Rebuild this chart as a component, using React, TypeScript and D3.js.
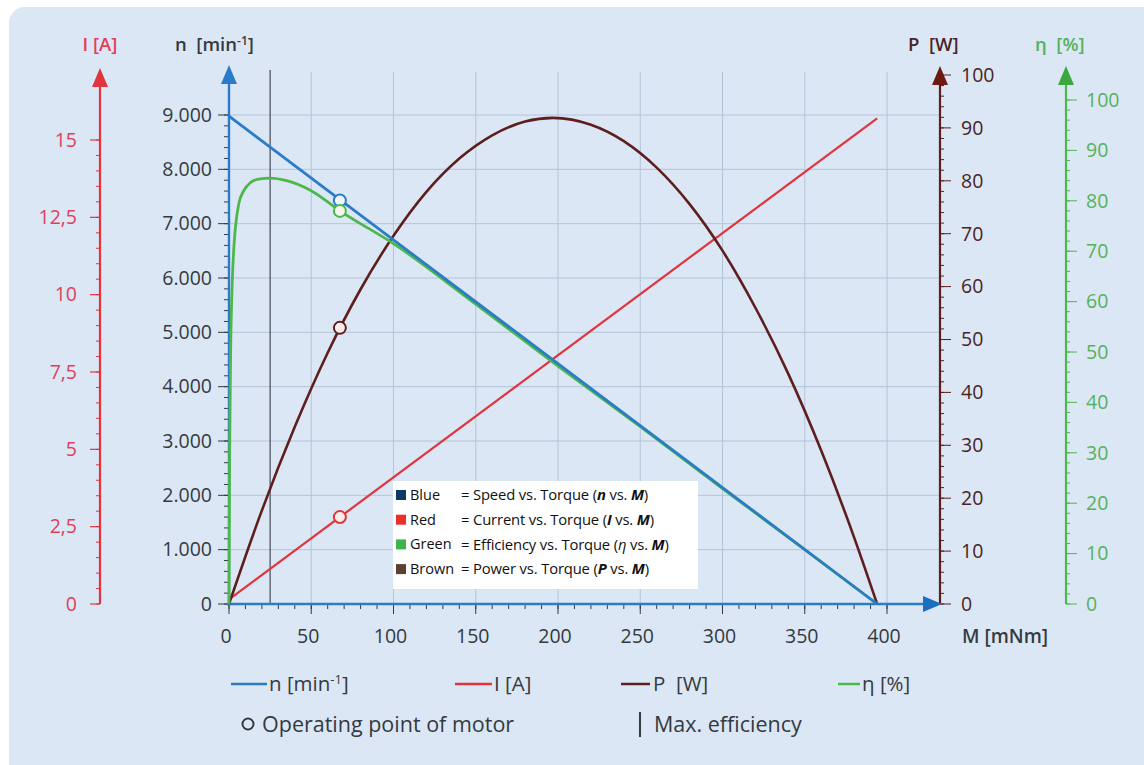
import React from "react";
import * as d3 from "d3";

// ---- data ----
const speedTorque = [0, 394];
const speedValues = [8980, 0];

const currentTorque = [0, 394];
const currentValues = [0.15, 15.7];

const powerTorque = [0, 20, 40, 60, 80, 100, 120, 140, 160, 180, 197, 220, 240, 260, 280, 300, 320, 340, 360, 380, 394];
const powerValues = [0, 17.7, 33.5, 47.5, 59.5, 69.6, 77.9, 84.2, 88.6, 91.2, 91.9, 90.6, 87.5, 82.5, 75.6, 66.8, 56.0, 43.5, 29.0, 12.6, 0];

const effTorque = [0, 0.4, 1, 2, 3, 4, 6, 9, 13, 18, 25, 35, 50, 67.4, 100, 150, 200, 250, 300, 350, 394];
const effValues = [0, 30, 50, 64, 71, 75, 79.5, 82, 83.6, 84.3, 84.5, 84, 82, 78, 71.5, 59.5, 47.2, 35.2, 22.9, 10.8, 0];

const opTorque = 67.4;
const opSpeed = 7426;
const opCurrent = 2.81;
const opPower = 52.2;
const opEff = 78;
const maxEffTorque = 25;

const xTicks = [0, 50, 100, 150, 200, 250, 300, 350, 400];
const nTicks = [0, 1000, 2000, 3000, 4000, 5000, 6000, 7000, 8000, 9000];
const nTickLabels = ["0", "1.000", "2.000", "3.000", "4.000", "5.000", "6.000", "7.000", "8.000", "9.000"];
const iTicks = [0, 2.5, 5, 7.5, 10, 12.5, 15];
const iTickLabels = ["0", "2,5", "5", "7,5", "10", "12,5", "15"];
const pTicks = [0, 10, 20, 30, 40, 50, 60, 70, 80, 90, 100];
const etaTicks = [0, 10, 20, 30, 40, 50, 60, 70, 80, 90, 100];

const legendRows = [
  { name: "Blue", color: "#0c3a68", pre: "= Speed vs. Torque (", sym: "n", mid: " vs. ", sym2: "M", post: ")" },
  { name: "Red", color: "#e8312a", pre: "= Current vs. Torque (", sym: "I", mid: " vs. ", sym2: "M", post: ")" },
  { name: "Green", color: "#3cb44a", pre: "= Efficiency vs. Torque (", sym: "η", mid: " vs. ", sym2: "M", post: ")" },
  { name: "Brown", color: "#5b4032", pre: "= Power vs. Torque (", sym: "P", mid: " vs. ", sym2: "M", post: ")" },
];

// ---- colours ----
const BLUE = "#2a7cc6";
const RED = "#e0343e";
const REDTXT = "#e0405a";
const BROWN = "#5e1e1e";
const BROWNTXT = "#4a2426";
const GREEN = "#4cb84c";
const GREENTXT = "#55b25a";
const GRID = "#b4c4d8";
const TXT = "#333a40";
const FONT = "'Open Sans', 'Noto Sans', sans-serif";
const PRE = { whiteSpace: "pre" as const };

export default function App() {
  const x = d3.scaleLinear().domain([0, 400]).range([229, 887]);
  const yN = d3.scaleLinear().domain([0, 9000]).range([604, 115]);
  const yI = d3.scaleLinear().domain([0, 15]).range([604, 140]);
  const yP = d3.scaleLinear().domain([0, 100]).range([604, 75]);
  const yE = d3.scaleLinear().domain([0, 100]).range([604, 100]);

  const xAxisY = 604;
  const axI = 100;
  const axN = 229;
  const axP = 940;
  const axE = 1066;

  const lineN = d3.line<number>().x((_, i) => x(speedTorque[i])).y((d) => yN(d));
  const lineI = d3.line<number>().x((_, i) => x(currentTorque[i])).y((d) => yI(d));
  const lineP = d3.line<number>().x((_, i) => x(powerTorque[i])).y((d) => yP(d)).curve(d3.curveMonotoneX);
  const lineE = d3.line<number>().x((_, i) => x(effTorque[i])).y((d) => yE(d)).curve(d3.curveMonotoneX);

  const xMinor = d3.range(0, 401, 10);
  const nMinor = d3.range(0, 9001, 200);
  const iMinor = d3.range(0, 15.01, 0.5);
  const pMinor = d3.range(0, 101, 2);
  const eMinor = d3.range(0, 101, 2);

  const arrowUp = (cx: number, tip: number, color: string) => (
    <path d={`M${cx},${tip} L${cx - 8},${tip + 19} L${cx + 8},${tip + 19} Z`} fill={color} />
  );

  return (
    <svg width={1144} height={765} style={{ position: "absolute", left: 0, top: 0, display: "block" }} fontFamily={FONT}>
      <rect x={0} y={0} width={1144} height={765} fill="#ffffff" />
      <rect x={9} y={7} width={1160} height={790} rx={16} fill="#dce7f5" />

      {/* grid */}
      {nTicks.slice(1).map((t) => (
        <line key={"gh" + t} x1={axN} x2={axP} y1={yN(t)} y2={yN(t)} stroke={GRID} strokeWidth={1} />
      ))}
      {xTicks.slice(1).map((t) => (
        <line key={"gv" + t} x1={x(t)} x2={x(t)} y1={72} y2={xAxisY} stroke={GRID} strokeWidth={1} />
      ))}

      {/* max efficiency line */}
      <line x1={x(maxEffTorque)} x2={x(maxEffTorque)} y1={70} y2={xAxisY} stroke="#4f5560" strokeWidth={1.3} />

      {/* ---- red I axis ---- */}
      <line x1={axI} x2={axI} y1={xAxisY} y2={85} stroke={RED} strokeWidth={2.2} />
      {arrowUp(axI, 68, RED)}
      {iMinor.map((t) => (
        <line key={"im" + t} x1={axI - 4} x2={axI} y1={yI(t)} y2={yI(t)} stroke={RED} strokeWidth={1} />
      ))}
      {iTicks.map((t, i) => (
        <g key={"it" + t}>
          <line x1={axI - 10} x2={axI} y1={yI(t)} y2={yI(t)} stroke={RED} strokeWidth={1.2} />
          <text x={axI - 23} y={yI(t)} dy="0.35em" textAnchor="end" fontSize={19.5} fill={REDTXT}>{iTickLabels[i]}</text>
        </g>
      ))}
      <text x={100} y={51} textAnchor="middle" fontSize={18.5} fontWeight={600} fill={REDTXT}>I [A]</text>

      {/* ---- n axis ---- */}
      {nMinor.map((t) => (
        <line key={"nm" + t} x1={axN - 5} x2={axN} y1={yN(t)} y2={yN(t)} stroke={TXT} strokeWidth={1} />
      ))}
      {nTicks.map((t, i) => (
        <g key={"nt" + t}>
          <line x1={axN - 11} x2={axN} y1={yN(t)} y2={yN(t)} stroke={TXT} strokeWidth={1} />
          <text x={axN - 17} y={yN(t)} dy="0.35em" textAnchor="end" fontSize={19.5} fill={TXT}>{nTickLabels[i]}</text>
        </g>
      ))}
      <text x={175} y={51} fontSize={18.5} fontWeight={600} fill={TXT} style={PRE}>{"n  [min"}<tspan fontSize={12} dy={-6}>-1</tspan><tspan dy={6}>]</tspan></text>

      {/* ---- P axis ---- */}
      <line x1={axP} x2={axP} y1={xAxisY} y2={80} stroke={BROWN} strokeWidth={2.2} />
      {arrowUp(axP, 66, "#6e1a12")}
      {pMinor.map((t) => (
        <line key={"pm" + t} x1={axP} x2={axP + 4} y1={yP(t)} y2={yP(t)} stroke={BROWN} strokeWidth={1} />
      ))}
      {pTicks.map((t) => (
        <g key={"pt" + t}>
          <line x1={axP} x2={axP + 11} y1={yP(t)} y2={yP(t)} stroke={BROWN} strokeWidth={1} />
          <text x={axP + 21} y={yP(t)} dy="0.35em" fontSize={19.5} fill={BROWNTXT}>{t}</text>
        </g>
      ))}
      <text x={908} y={51} fontSize={18.5} fontWeight={600} fill={BROWNTXT} style={PRE}>{"P  [W]"}</text>

      {/* ---- eta axis ---- */}
      <line x1={axE} x2={axE} y1={xAxisY} y2={80} stroke={GREEN} strokeWidth={2.2} />
      {arrowUp(axE, 66, "#3aa83c")}
      {eMinor.map((t) => (
        <line key={"em" + t} x1={axE} x2={axE + 4} y1={yE(t)} y2={yE(t)} stroke={GREEN} strokeWidth={1} />
      ))}
      {etaTicks.map((t) => (
        <g key={"et" + t}>
          <line x1={axE} x2={axE + 11} y1={yE(t)} y2={yE(t)} stroke={GREEN} strokeWidth={1} />
          <text x={axE + 20} y={yE(t)} dy="0.35em" fontSize={19.5} fill={GREENTXT}>{t}</text>
        </g>
      ))}
      <text x={1035} y={51} fontSize={18.5} fontWeight={600} fill={GREENTXT} style={PRE}>{"η  [%]"}</text>

      {/* ---- x axis ---- */}
      {xMinor.map((t) => (
        <line key={"xm" + t} x1={x(t)} x2={x(t)} y1={xAxisY} y2={xAxisY + 5} stroke={TXT} strokeWidth={1} />
      ))}
      {xTicks.map((t) => (
        <g key={"xt" + t}>
          <line x1={x(t)} x2={x(t)} y1={xAxisY} y2={xAxisY + 10} stroke={TXT} strokeWidth={1} />
          <text x={x(t) - 3} y={643} textAnchor="middle" fontSize={19.5} fill={TXT}>{t}</text>
        </g>
      ))}
      <text x={962} y={643} fontSize={19} fontWeight={600} fill={TXT}>M [mNm]</text>

      {/* axis lines in blue */}
      <line x1={axN} x2={axN} y1={xAxisY + 2} y2={82} stroke={BLUE} strokeWidth={2.4} />
      {arrowUp(axN, 65, BLUE)}
      <line x1={axN - 2} x2={928} y1={xAxisY} y2={xAxisY} stroke={BLUE} strokeWidth={2.4} />
      <path d={`M${axP + 2},${xAxisY} L${axP - 17},${xAxisY - 8} L${axP - 17},${xAxisY + 8} Z`} fill="#1a6fc0" />

      {/* ---- curves ---- */}
      <path d={lineI(currentValues) || ""} fill="none" stroke={RED} strokeWidth={2.2} />
      <path d={lineP(powerValues) || ""} fill="none" stroke={BROWN} strokeWidth={2.6} />
      <path d={lineE(effValues) || ""} fill="none" stroke={GREEN} strokeWidth={2.8} />
      <path d={lineN(speedValues) || ""} fill="none" stroke={BLUE} strokeWidth={2.8} />

      {/* operating points */}
      <circle cx={x(opTorque)} cy={yN(opSpeed)} r={6} fill="#eef4fb" stroke={BLUE} strokeWidth={2} />
      <circle cx={x(opTorque)} cy={yE(opEff)} r={6} fill="#f2f8ee" stroke={GREEN} strokeWidth={2} />
      <circle cx={x(opTorque)} cy={yP(opPower)} r={6} fill="#fbeee8" stroke={BROWN} strokeWidth={2} />
      <circle cx={x(opTorque)} cy={yI(opCurrent)} r={6} fill="#fbeee8" stroke={RED} strokeWidth={2} />

      {/* inner legend */}
      <rect x={393} y={481} width={305} height={108} fill="#ffffff" />
      {legendRows.map((r, i) => {
        const yy = 495 + i * 24.7;
        return (
          <g key={r.name} fontFamily="'Open Sans', sans-serif" fill="#111">
            <rect x={396} y={yy - 5} width={10} height={10} fill={r.color} />
            <text x={410} y={yy} dy="0.35em" fontSize={14.5}>{r.name}</text>
            <text x={461} y={yy} dy="0.35em" fontSize={14.8} letterSpacing={-0.15} style={PRE}>
              {r.pre}
              <tspan fontStyle="italic" fontWeight={r.sym === "η" ? 400 : 700}>{r.sym}</tspan>
              {r.mid}
              <tspan fontStyle="italic" fontWeight={700}>{r.sym2}</tspan>
              {r.post}
            </text>
          </g>
        );
      })}

      {/* bottom legend */}
      <line x1={231} x2={267} y1={684} y2={684} stroke={BLUE} strokeWidth={2.5} />
      <text x={269} y={684} dy="0.35em" fontSize={20.5} fill={TXT}>n [min<tspan fontSize={13} dy={-7}>-1</tspan><tspan dy={7}>]</tspan></text>
      <line x1={455} x2={492} y1={684} y2={684} stroke={RED} strokeWidth={2.5} />
      <text x={494} y={684} dy="0.35em" fontSize={20.5} fill={TXT}>I [A]</text>
      <line x1={621} x2={650} y1={684} y2={684} stroke={BROWN} strokeWidth={2.5} />
      <text x={653} y={684} dy="0.35em" fontSize={20.5} fill={TXT} style={PRE}>{"P  [W]"}</text>
      <line x1={838} x2={860} y1={684} y2={684} stroke={GREEN} strokeWidth={2.5} />
      <text x={862} y={684} dy="0.35em" fontSize={20.5} fill={TXT}>η [%]</text>

      <circle cx={248} cy={724} r={5.5} fill="none" stroke={TXT} strokeWidth={2} />
      <text x={262} y={724} dy="0.35em" fontSize={21.5} fill={TXT}>Operating point of motor</text>
      <line x1={640} x2={640} y1={712} y2={737} stroke={TXT} strokeWidth={2} />
      <text x={654} y={724} dy="0.35em" fontSize={21.5} fill={TXT}>Max. efficiency</text>
    </svg>
  );
}
